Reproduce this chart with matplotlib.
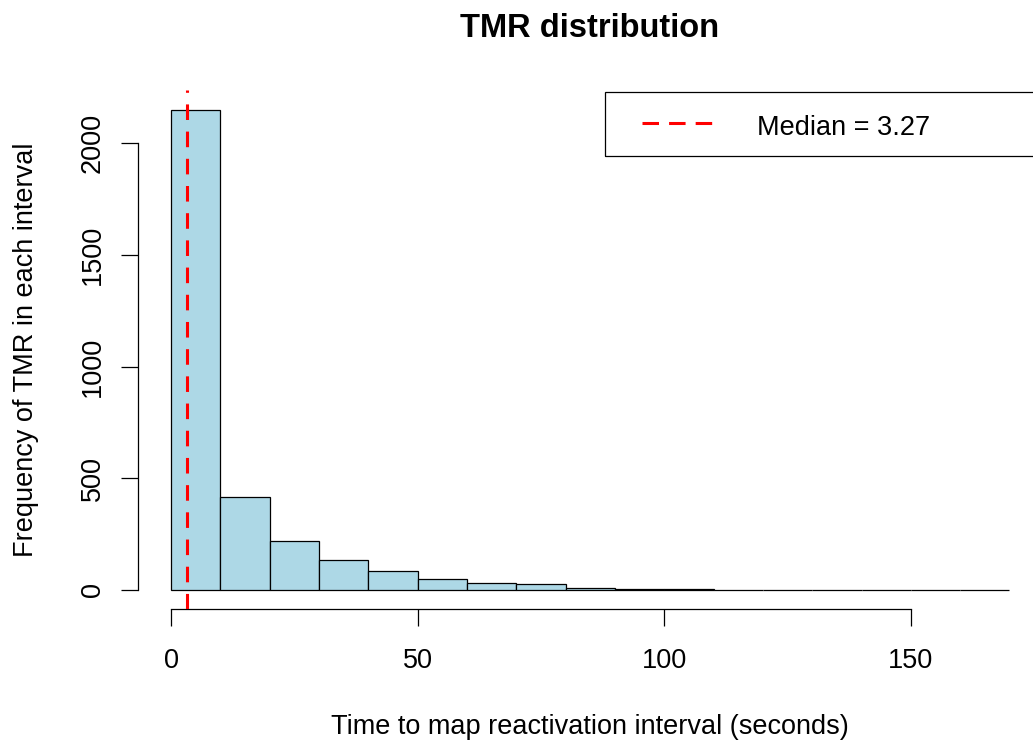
import matplotlib
matplotlib.use("Agg")
import matplotlib.pyplot as plt
from matplotlib.patches import Rectangle
from matplotlib.lines import Line2D
import numpy as np

plt.rcParams['font.family'] = ['Liberation Sans', 'DejaVu Sans']

# ---- data ----
bin_edges = [0, 10, 20, 30, 40, 50, 60, 70, 80, 90, 100, 110,
             120, 130, 140, 150, 160, 170]
counts = [2150, 418, 220, 133, 87, 48, 33, 27, 7, 5, 4,
          0, 0, 0, 0, 0, 0]
median_value = 3.27
x_ticks = [0, 50, 100, 150]
y_ticks = [0, 500, 1000, 1500, 2000]
title = "TMR distribution"
x_label = "Time to map reactivation interval (seconds)"
y_label = "Frequency of TMR in each interval"
legend_label = f"Median = {median_value}"

W, H = 1033, 740
fig = plt.figure(figsize=(W / 100, H / 100), dpi=100)

# plot region in pixels (R-like, partly cropped on the right)
px_left, px_right, px_top, px_bottom = 137.5, 1043.0, 90.5, 609.2
ax = fig.add_axes([px_left / W, 1 - px_bottom / H,
                   (px_right - px_left) / W, (px_bottom - px_top) / H])
ax.patch.set_visible(False)

lo, hi = bin_edges[0], bin_edges[-1]
ax.set_xlim(lo - 0.04 * (hi - lo), hi + 0.04 * (hi - lo))
cmax = max(counts)
ax.set_ylim(-0.04 * cmax, 1.04 * cmax)

widths = np.diff(bin_edges)
ax.bar(bin_edges[:-1], counts, width=widths, align='edge',
       color='#ADD8E6', edgecolor='black', linewidth=0.9, zorder=2)

ax.axvline(median_value, color='red', lw=2.2, ls=(0, (5.1, 3.8)), zorder=3)

for s in ['top', 'right']:
    ax.spines[s].set_visible(False)
ax.spines['left'].set_bounds(y_ticks[0], y_ticks[-1])
ax.spines['bottom'].set_bounds(x_ticks[0], x_ticks[-1])
for s in ['left', 'bottom']:
    ax.spines[s].set_linewidth(0.9)
    ax.spines[s].set_color('black')

ax.set_xticks(x_ticks)
ax.set_yticks(y_ticks)
ax.set_xticklabels([str(v) for v in x_ticks])
ax.set_yticklabels([str(v) for v in y_ticks])
ax.tick_params(axis='both', direction='out', length=12, width=0.9,
               colors='black', labelsize=19.5)
ax.tick_params(axis='x', pad=15.9)
ax.tick_params(axis='y', pad=15.0)
for lab in ax.get_yticklabels():
    lab.set_rotation(90)
    lab.set_rotation_mode('anchor')
    lab.set_ha('center')
    lab.set_va('baseline')

# titles / labels
fig.text(590 / W, 1 - 36.7 / H, title, ha='center', va='baseline',
         fontsize=23.5, fontweight='bold')
fig.text(590 / W, 1 - 734.3 / H, x_label, ha='center', va='baseline',
         fontsize=19.5)
fig.text(33 / W, 1 - 349.9 / H, y_label, ha='center', va='baseline',
         rotation=90, rotation_mode='anchor', fontsize=19.5)

# legend (R style box, top-right of plot region)
box_l, box_t, box_b = 605.0, 91.7, 156.0
fig.patches.append(Rectangle((box_l / W, 1 - box_b / H),
                             (px_right - box_l) / W, (box_b - box_t) / H,
                             transform=fig.transFigure, fill=False,
                             edgecolor='black', lw=0.9, zorder=5))
fig.lines.append(Line2D([641.7 / W, 711.7 / W], [1 - 122.7 / H, 1 - 122.7 / H],
                        transform=fig.transFigure, color='red', lw=2.2,
                        ls=(0, (5.4, 3.3)), zorder=6))
fig.text(756.7 / W, 1 - 135.0 / H, legend_label, ha='left', va='baseline',
         fontsize=19.5)

fig.savefig("out.png", dpi=100)
